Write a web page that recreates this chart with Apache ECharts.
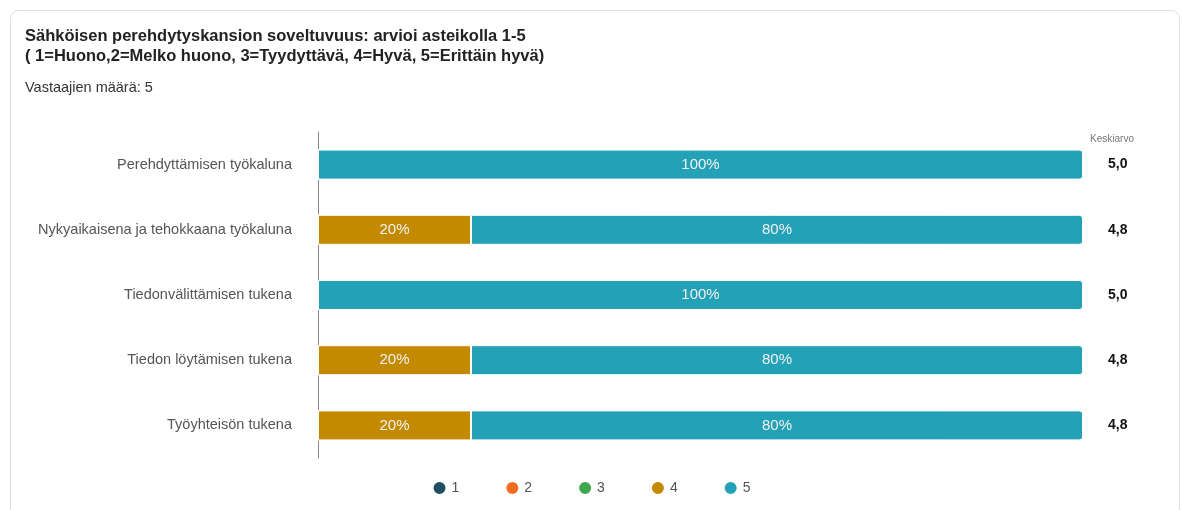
<!DOCTYPE html>
<html>
<head>
<meta charset="utf-8">
<script src="https://cdn.jsdelivr.net/npm/echarts@6/dist/echarts.min.js"></script>
<style>
html,body{margin:0;padding:0;background:#fff;}
#c{width:1182px;height:510px;}
</style>
</head>
<body>
<div id="c"></div>
<script>
var categories = ['Perehdyttämisen työkaluna','Nykyaikaisena ja tehokkaana työkaluna','Tiedonvälittämisen tukena','Tiedon löytämisen tukena','Työyhteisön tukena'];
var seriesNames = ['1','2','3','4','5'];
var s1 = [0,0,0,0,0];
var s2 = [0,0,0,0,0];
var s3 = [0,0,0,0,0];
var s4 = [0,20,0,20,20];
var s5 = [100,80,100,80,80];
var averages = ['5,0','4,8','5,0','4,8','4,8'];
var colors = ['#1f4e5f','#f26b21','#3fa652','#c38a00','#22a1b7'];

var font = '"Liberation Sans", Arial, sans-serif';
var allData = [s1,s2,s3,s4,s5];
var series = seriesNames.map(function(n,i){
  return {
    name:n, type:'bar', stack:'t', barWidth:30,
    data: allData[i],
    itemStyle:{color:colors[i], borderColor:'#fff', borderWidth:1},
    label:{show:true, position:'inside', color:'#f2f2f2', fontSize:15, fontFamily:font,
      formatter:function(p){return p.value>0? p.value+'%':'';}}
  };
});
series[4].itemStyle.borderRadius=[0,3,3,0];

var chart = echarts.init(document.getElementById('c'));
chart.setOption({
  animation:false,
  textStyle:{fontFamily:font},
  graphic:[{type:'rect', shape:{x:10.5,y:10.5,width:1169,height:520,r:8}, style:{fill:'none',stroke:'#dedede',lineWidth:1}, z:-1}],
  title:{
    text:'Sähköisen perehdytyskansion soveltuvuus: arvioi asteikolla 1-5\n( 1=Huono,2=Melko huono, 3=Tyydyttävä, 4=Hyvä, 5=Erittäin hyvä)',
    subtext:'Vastaajien määrä: 5',
    left:20, top:21,
    itemGap:14,
    textStyle:{fontSize:16.5, fontWeight:'bold', color:'#222', lineHeight:20, fontFamily:font},
    subtextStyle:{fontSize:14.5, color:'#333', fontFamily:font}
  },
  legend:{
    data:seriesNames, bottom:9, left:'center', icon:'circle', itemWidth:14, itemHeight:14, itemGap:45,
    textStyle:{fontSize:14,color:'#555',fontFamily:font}
  },
  grid:{left:318, right:99, top:132, bottom:52, containLabel:false},
  xAxis:{type:'value', min:0, max:100, show:false},
  yAxis:[{
    type:'category', data:categories, inverse:true,
    axisLine:{show:true, lineStyle:{color:'#888'}}, axisTick:{show:false},
    axisLabel:{fontSize:14.5, color:'#555', margin:26, fontFamily:font}
  },{
    type:'category', data:averages, inverse:true, position:'right',
    axisLine:{show:false}, axisTick:{show:false},
    axisLabel:{fontSize:14, fontWeight:'bold', color:'#111', margin:25, align:'left', fontFamily:font},
    name:'Keskiarvo', nameLocation:'start', nameGap:-12,
    nameTextStyle:{fontSize:10, color:'#777', align:'center', padding:[0,0,0,58]}
  }],
  series:series
});
</script>
</body>
</html>
